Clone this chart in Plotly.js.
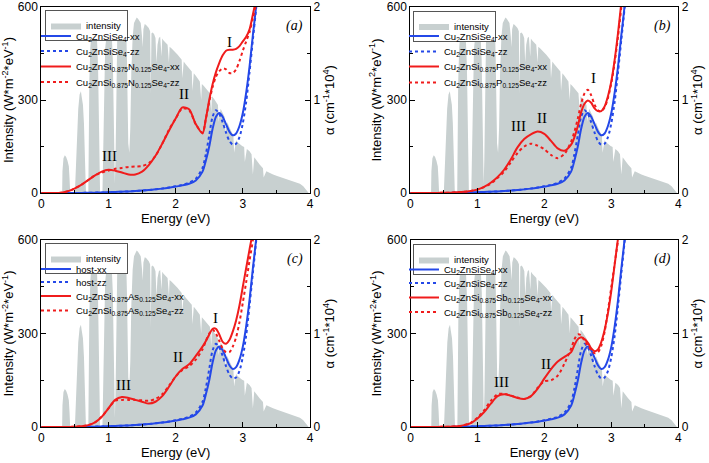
<!DOCTYPE html>
<html><head><meta charset="utf-8">
<script src="https://cdn.plot.ly/plotly-3.0.1.min.js"></script>
<style>html,body{margin:0;padding:0;background:#fff}#chart{width:709px;height:463px}</style>
</head><body><div id="chart"></div>
<script>
// ---- Solar spectrum (AM1.5-like), energy in eV, intensity in W m^-2 eV^-1 ----
const specE = [0.28,0.31,0.315,0.33,0.35,0.37,0.39,0.41,0.42,0.43,
0.50,0.51,0.53,0.55,0.57,0.59,0.60,0.62,0.635,0.645,0.655,0.665,
0.70,0.705,0.715,0.73,0.75,0.77,0.79,0.81,0.83,0.845,0.855,0.865,0.875,
0.91,0.92,0.935,0.95,0.97,0.99,1.01,1.03,1.05,1.065,1.075,1.085,1.095,
1.105,1.115,1.13,1.15,1.17,1.19,1.21,1.23,1.25,1.265,1.275,1.285,1.295,1.31,1.325,1.34,1.36,1.38,1.40,1.42,1.44,1.46,1.48,1.50,1.51,1.52,1.54,1.56,1.58,1.60,1.62,1.63,1.64,1.66,1.68,1.70,1.715,1.73,1.75,1.77,1.79,1.80,1.82,1.85,1.88,1.90,1.91,1.94,1.97,2.00,2.03,2.06,2.09,2.10,2.12,2.15,2.18,2.21,2.24,2.25,2.27,2.30,2.33,2.36,2.38,2.39,2.42,2.45,2.48,2.51,2.53,2.54,2.57,2.60,2.63,2.64,2.67,2.70,2.73,2.74,2.77,2.80,2.83,2.86,2.87,2.90,2.93,2.96,2.99,3.02,3.03,3.06,3.10,3.13,3.15,3.17,3.20,3.25,3.30,3.31,3.35,3.40,3.45,3.50,3.55,3.60,3.65,3.70,3.75,3.80,3.85,3.90,3.93,3.96,3.98,4.0];
const specI = [0,0,70,112,122,116,104,86,50,0,
0,50,190,272,318,328,312,285,225,150,55,0,
0,150,360,470,520,540,535,520,490,410,230,40,0,
0,110,370,465,505,515,525,520,505,430,260,80,30,
110,370,495,535,550,558,565,562,555,520,430,290,160,130,210,390,505,548,560,566,562,556,548,505,470,528,545,542,538,532,522,320,515,518,512,500,420,478,500,504,440,498,492,486,478,420,472,466,460,452,446,438,430,370,424,415,408,400,392,330,386,378,368,360,300,352,345,338,330,322,260,312,304,295,284,230,272,258,245,195,228,212,198,185,130,170,162,156,152,148,100,142,135,125,60,115,105,92,80,50,70,64,60,56,52,48,45,42,38,34,30,22,15,5,0,0];

// ---- Absorption coefficient, alpha (cm^-1 * 10^4) ----
const absE = [0,0.1,0.2,0.3,0.4,0.5,0.6,0.7,0.8,0.9,1.0,1.1,1.2,1.3,1.4,1.5,1.6,1.7,1.8,1.9,2.0,2.1,2.2,2.3,2.4,2.45,2.5,2.55,2.6,2.65,2.7,2.75,2.8,2.85,2.9,2.95,3.0,3.05,3.1,3.15,3.2,3.25,3.3];
const hostXX = [0,0,0,0,0,0,0.001,0.002,0.004,0.006,0.008,0.011,0.014,0.017,0.021,0.026,0.032,0.039,0.047,0.057,0.069,0.082,0.1,0.135,0.23,0.35,0.5,0.69,0.82,0.86,0.82,0.74,0.66,0.62,0.64,0.72,0.86,1.08,1.36,1.7,2.02,2.4,2.8];
const hostZZ = [0,0,0,0,0,0,0.001,0.002,0.004,0.006,0.008,0.011,0.014,0.017,0.021,0.026,0.032,0.039,0.048,0.059,0.072,0.088,0.11,0.155,0.27,0.42,0.62,0.82,0.89,0.85,0.76,0.65,0.56,0.52,0.53,0.6,0.75,0.98,1.3,1.65,2.0,2.4,2.8];
const nXX = [0,0,0.001,0.004,0.02,0.05,0.09,0.14,0.19,0.23,0.25,0.24,0.22,0.2,0.2,0.23,0.3,0.4,0.53,0.67,0.8,0.92,0.9,0.74,0.64,0.8,1.0,1.17,1.3,1.4,1.48,1.53,1.54,1.54,1.55,1.58,1.63,1.68,1.76,1.92,2.1,2.4,2.8];
const nZZ = [0,0,0.001,0.004,0.02,0.05,0.09,0.14,0.19,0.22,0.24,0.26,0.27,0.28,0.285,0.29,0.32,0.4,0.53,0.68,0.8,0.91,0.89,0.74,0.65,0.8,0.98,1.14,1.25,1.31,1.34,1.33,1.29,1.29,1.33,1.42,1.53,1.63,1.73,1.88,2.05,2.4,2.8];
const pXX = [0,0,0,0,0.001,0.002,0.004,0.008,0.013,0.022,0.036,0.065,0.11,0.17,0.25,0.36,0.49,0.58,0.63,0.66,0.635,0.56,0.48,0.455,0.52,0.6,0.72,0.87,0.96,0.995,0.97,0.91,0.88,0.88,0.93,1.04,1.2,1.43,1.72,2.05,2.4,2.8,3.2];
const pZZ = [0,0,0,0,0.001,0.002,0.004,0.008,0.013,0.022,0.036,0.063,0.1,0.16,0.23,0.33,0.43,0.5,0.53,0.51,0.47,0.41,0.375,0.42,0.55,0.66,0.8,0.96,1.07,1.11,1.05,0.95,0.89,0.88,0.92,1.02,1.18,1.4,1.68,2.0,2.4,2.8,3.2];
const asXX = [0,0,0,0,0.001,0.003,0.008,0.02,0.05,0.11,0.2,0.29,0.32,0.31,0.29,0.27,0.25,0.27,0.33,0.43,0.54,0.62,0.67,0.76,0.86,0.92,0.99,1.05,1.05,0.99,0.91,0.89,0.93,1.02,1.14,1.3,1.5,1.7,1.9,2.1,2.4,2.8,3.2];
const asZZ = [0,0,0,0,0.001,0.003,0.008,0.02,0.05,0.11,0.2,0.28,0.29,0.29,0.29,0.285,0.28,0.3,0.35,0.44,0.54,0.61,0.65,0.72,0.83,0.92,1.0,1.04,1.0,0.92,0.84,0.8,0.8,0.86,0.96,1.12,1.33,1.55,1.78,2.0,2.3,2.7,3.1];
const sbXX = [0,0,0,0,0.001,0.002,0.004,0.008,0.02,0.04,0.09,0.16,0.25,0.33,0.35,0.335,0.31,0.3,0.33,0.41,0.52,0.62,0.7,0.75,0.8,0.88,0.94,0.96,0.94,0.9,0.84,0.81,0.83,0.91,1.04,1.22,1.46,1.74,2.02,2.3,2.6,3.0,3.4];
const sbZZ = [0,0,0,0,0.001,0.002,0.004,0.008,0.02,0.045,0.1,0.18,0.28,0.35,0.355,0.335,0.315,0.3,0.33,0.42,0.49,0.5,0.55,0.68,0.84,0.94,0.99,0.98,0.92,0.87,0.82,0.79,0.8,0.87,1.02,1.25,1.5,1.75,2.0,2.3,2.6,3.0,3.4];

// ---- Labels ----
const hostName = 'Cu<sub>2</sub>ZnSiSe<sub>4</sub>';
const panels = [
  {tag:'(a)', host:[hostName+'-xx', hostName+'-zz'], dop:'Cu<sub>2</sub>ZnSi<sub>0.875</sub>N<sub>0.125</sub>Se<sub>4</sub>', xx:nXX, zz:nZZ,
   unit:'Intensity (W*m<sup>-2</sup>*eV<sup>-1</sup>)',
   peaks:[['I',2.8,1.62],['II',2.13,1.06],['III',1.02,0.4]]},
  {tag:'(b)', host:[hostName+'-xx', hostName+'-zz'], dop:'Cu<sub>2</sub>ZnSi<sub>0.875</sub>P<sub>0.125</sub>Se<sub>4</sub>', xx:pXX, zz:pZZ,
   unit:'Intensity (W*m<sup>2</sup>*eV<sup>-1</sup>)',
   peaks:[['I',2.73,1.24],['II',1.96,0.81],['III',1.62,0.72]]},
  {tag:'(c)', host:['host-xx','host-zz'], dop:'Cu<sub>2</sub>ZnSi<sub>0.875</sub>As<sub>0.125</sub>Se<sub>4</sub>', xx:asXX, zz:asZZ,
   unit:'Intensity (W*m<sup>-2</sup>*eV<sup>-1</sup>)',
   peaks:[['I',2.6,1.17],['II',2.04,0.75],['III',1.23,0.45]]},
  {tag:'(d)', host:[hostName+'-xx', hostName+'-zz'], dop:'Cu<sub>2</sub>ZnSi<sub>0.875</sub>Sb<sub>0.125</sub>Se<sub>4</sub>', xx:sbXX, zz:sbZZ,
   unit:'Intensity (W*m<sup>-2</sup>*eV<sup>-1</sup>)',
   peaks:[['I',2.56,1.14],['II',2.02,0.67],['III',1.36,0.48]]}
];

const W = 709, H = 463;
const px2x = p => p / W;
const py2y = p => 1 - p / H;
// plot boxes in pixels [left, right, top, bottom]
const boxes = [[41.3,310,7,193],[410.3,678.3,7,193],[41.3,310,240,427],[410.5,678.3,240,427]];
// legend placement in pixels: intensity box [left, top]; curve entries: left and entry centres
const boxPos = [[45,10],[413,10.5],[45,243],[413,244]];
const entryLeft = [36, 404, 36, 404];
const entryY = [[36,51,66.5,82],[36,51.5,66.5,82.5],[269,282,296,310.5],[269.5,283,297.5,312]];

const FONT = 'Liberation Sans, Arial, sans-serif';
const SERIF = 'Liberation Serif, Times New Roman, serif';
const BLUE = '#2448e8', RED = '#f01c1c', GREY = '#c8d0d0';

const traces = [];
const layout = {
  width: W, height: H, margin:{l:0,r:0,t:0,b:0},
  paper_bgcolor:'#fff', plot_bgcolor:'rgba(0,0,0,0)',
  font:{family:FONT, size:12, color:'#000'},
  annotations: [], showlegend:true
};
const legName = k => k === 1 ? 'legend' : 'legend' + k;

panels.forEach((p, i) => {
  const n = i + 1;
  const xa = n === 1 ? 'x' : 'x' + n;
  const yl = 'y' + (2*i + 1 === 1 ? '' : (2*i + 1));
  const yr = 'y' + (2*i + 2);
  const xKey = 'xaxis' + (n === 1 ? '' : n);
  const ylKey = 'yaxis' + (2*i + 1 === 1 ? '' : (2*i + 1));
  const yrKey = 'yaxis' + (2*i + 2);
  const b = boxes[i];
  const base = 5*i + 1;

  traces.push({type:'scatter', mode:'lines', x:specE, y:specI, xaxis:xa, yaxis:yl,
    fill:'tozeroy', fillcolor:GREY, line:{width:0, color:GREY}, name:'intensity', legend:legName(base), hoverinfo:'skip'});
  layout[legName(base)] = {x:px2x(boxPos[i][0]), y:py2y(boxPos[i][1]), xanchor:'left', yanchor:'top', xref:'paper', yref:'paper',
    bgcolor:'#fff', bordercolor:'#555', borderwidth:1, font:{size:9.5, family:FONT}, itemclick:false, itemdoubleclick:false};

  const curves = [
    [hostXX, BLUE, 'solid', p.host[0]],
    [hostZZ, BLUE, 'dot', p.host[1]],
    [p.xx, RED, 'solid', p.dop + '-xx'],
    [p.zz, RED, 'dot', p.dop + '-zz']
  ];
  curves.forEach((c, k) => {
    const ln = legName(base + 1 + k);
    traces.push({type:'scatter', mode:'lines', x:absE, y:c[0], xaxis:xa, yaxis:yr,
      line:{color:c[1], dash:c[2], width:2, shape:'spline', smoothing:0.8}, name:c[3], legend:ln});
    layout[ln] = {x:px2x(entryLeft[i]), y:py2y(entryY[i][k]), xanchor:'left', yanchor:'middle', xref:'paper', yref:'paper',
      bgcolor:'rgba(0,0,0,0)', borderwidth:0, font:{size:9.5, family:FONT}, itemclick:false, itemdoubleclick:false};
  });

  const common = {showline:true, linecolor:'#000', linewidth:1, showgrid:false, zeroline:false,
    ticks:'inside', ticklen:5, tickcolor:'#000', tickfont:{size:12, family:FONT}};
  layout[xKey] = Object.assign({}, common, {domain:[px2x(b[0]), px2x(b[1])], anchor:yl, range:[0,4], dtick:1, tick0:0,
    mirror:true, minor:{dtick:0.5, ticks:'inside', ticklen:3, tickcolor:'#000'},
    title:{text:'Energy (eV)', font:{size:13, family:FONT}, standoff:3}});
  layout[ylKey] = Object.assign({}, common, {domain:[py2y(b[3]), py2y(b[2])], anchor:xa, range:[0,600], dtick:300, tick0:0,
    minor:{dtick:150, ticks:'inside', ticklen:3, tickcolor:'#000'},
    title:{text:p.unit, font:{size:13, family:FONT}, standoff:2}});
  layout[yrKey] = Object.assign({}, common, {overlaying:yl, side:'right', anchor:xa, range:[0,2], dtick:1, tick0:0,
    minor:{dtick:0.5, ticks:'inside', ticklen:3, tickcolor:'#000'},
    title:{text:'α (cm<sup>-1</sup>*10<sup>4</sup>)', font:{size:13, family:FONT}, standoff:5}});

  p.peaks.forEach(pk => {
    layout.annotations.push({x:pk[1], y:pk[2], xref:xa, yref:yr, text:pk[0], showarrow:false,
      font:{family:SERIF, size:15, color:'#000'}});
  });
  layout.annotations.push({x:3.77, y:1.8, xref:xa, yref:yr, text:'<i>'+p.tag+'</i>', showarrow:false,
    font:{family:SERIF, size:14, color:'#000'}});
});

Plotly.newPlot('chart', traces, layout, {staticPlot:true, displayModeBar:false});
</script>
</body></html>
